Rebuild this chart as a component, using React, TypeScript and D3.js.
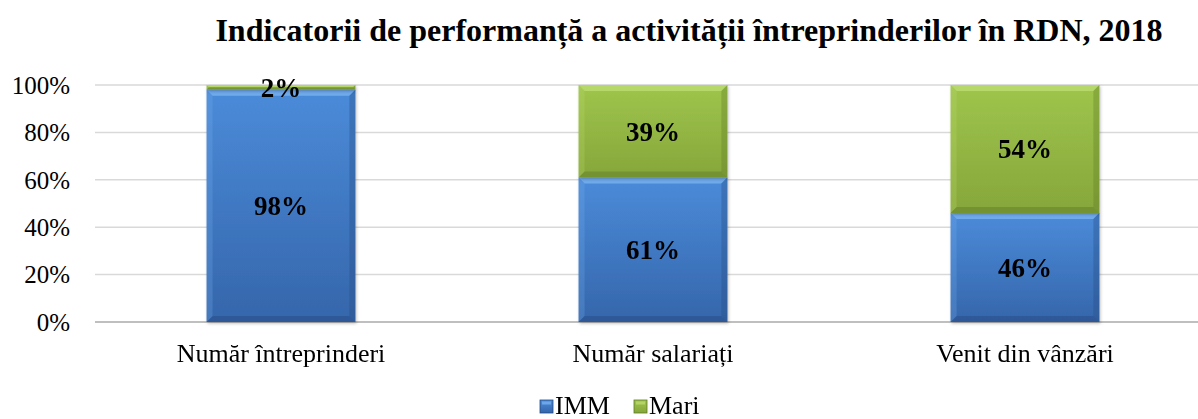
import React from "react";
import * as d3 from "d3";

// chart values
const categories = ["Număr întreprinderi", "Număr salariați", "Venit din vânzări"];
const series = ["IMM", "Mari"];
const imm = [98, 61, 46];
const mari = [2, 39, 54];
const yTicks = [0, 20, 40, 60, 80, 100];

const W = 1198;
const H = 419;
const colors: Record<string, { top: string; bottom: string; light: string; dark: string }> = {
  IMM: { top: "#4b8bd9", bottom: "#3566ab", light: "#76b0f0", dark: "#244a80" },
  Mari: { top: "#9fc54c", bottom: "#86a63b", light: "#bada70", dark: "#5e7a26" },
};

function Segment(props: { x: number; y: number; w: number; h: number; s: string }) {
  const { x, y, w, h, s } = props;
  const c = colors[s];
  const b = Math.min(6, h / 2); // bevel size
  return (
    <g>
      <rect x={x} y={y} width={w} height={h} fill={`url(#g-${s})`} />
      {/* top bevel */}
      <polygon points={`${x},${y} ${x + w},${y} ${x + w - b},${y + b} ${x + b},${y + b}`} fill={c.light} opacity={0.85} />
      {/* left / right bevel */}
      <polygon points={`${x},${y} ${x + b},${y + b} ${x + b},${y + h - b} ${x},${y + h}`} fill={c.light} opacity={0.25} />
      <polygon points={`${x + w},${y} ${x + w - b},${y + b} ${x + w - b},${y + h - b} ${x + w},${y + h}`} fill={c.dark} opacity={0.35} />
      {/* bottom bevel */}
      <polygon points={`${x},${y + h} ${x + b},${y + h - b} ${x + w - b},${y + h - b} ${x + w},${y + h}`} fill={c.dark} opacity={0.45} />
    </g>
  );
}

export default function App() {
  const left = 95;
  const x = d3
    .scaleBand()
    .domain(categories)
    .range([left, left + 3 * 372])
    .paddingInner(0.6)
    .paddingOuter(0.3);
  const y = d3.scaleLinear().domain([0, 100]).range([322, 85]);

  const rows = categories.map((c, i) => ({ cat: c, IMM: imm[i], Mari: mari[i] }));
  const stacked = d3.stack<any>().keys(series)(rows);

  const serif = "'Liberation Serif', 'Times New Roman', serif";

  return (
    <svg
      width={W}
      height={H}
      style={{ position: "absolute", left: 0, top: 0, background: "#fff" }}
      fontFamily={serif}
    >
      <defs>
        {series.map((s) => (
          <linearGradient key={s} id={"g-" + s} x1="0" y1="0" x2="0" y2="1">
            <stop offset="0%" stopColor={colors[s].top} />
            <stop offset="100%" stopColor={colors[s].bottom} />
          </linearGradient>
        ))}
        <filter id="shadow" x="-10%" y="-10%" width="120%" height="120%">
          <feDropShadow dx="1" dy="1.5" stdDeviation="1.5" floodColor="#000" floodOpacity="0.25" />
        </filter>
      </defs>

      <text x={689} y={41} textAnchor="middle" fontSize={32} fontWeight="bold" fill="#000">
        Indicatorii de performanță a activității întreprinderilor în RDN, 2018
      </text>

      {/* gridlines */}
      {yTicks.map((t) => (
        <line
          key={t}
          x1={left}
          x2={W}
          y1={y(t)}
          y2={y(t)}
          stroke={t === 0 ? "#bfbfbf" : "#d9d9d9"}
          strokeWidth={t === 0 ? 2 : 1.5}
        />
      ))}
      {yTicks.map((t) => (
        <text key={"l" + t} x={70} y={y(t)} dy="0.35em" textAnchor="end" fontSize={25} fill="#000">
          {t}%
        </text>
      ))}

      {/* bars */}
      {stacked.map((layer) => (
        <g key={layer.key} filter="url(#shadow)">
          {layer.map((d, i) => (
            <Segment
              key={i}
              x={x(categories[i]) as number}
              y={y(d[1])}
              w={x.bandwidth()}
              h={y(d[0]) - y(d[1])}
              s={layer.key}
            />
          ))}
        </g>
      ))}

      {/* data labels */}
      {stacked.map((layer) =>
        layer.map((d, i) => (
          <text
            key={layer.key + i}
            x={(x(categories[i]) as number) + x.bandwidth() / 2}
            y={y((d[0] + d[1]) / 2)}
            dy="0.35em"
            textAnchor="middle"
            fontSize={27}
            fontWeight="bold"
            fill="#000"
          >
            {d[1] - d[0]}%
          </text>
        ))
      )}

      {/* category labels */}
      {categories.map((c) => (
        <text key={c} x={(x(c) as number) + x.bandwidth() / 2} y={362} textAnchor="middle" fontSize={26} fill="#000">
          {c}
        </text>
      ))}

      {/* legend */}
      {series.map((s, i) => {
        const lx = [540, 634][i];
        return (
          <g key={s}>
            <rect x={lx} y={400} width={13} height={13} fill={`url(#g-${s})`} stroke={colors[s].dark} strokeWidth={0.8} />
            <rect x={lx + 2} y={401.5} width={9} height={3} fill={colors[s].light} opacity={0.8} />
            <text x={lx + 15} y={414} fontSize={26} fill="#000">
              {s}
            </text>
          </g>
        );
      })}
    </svg>
  );
}
